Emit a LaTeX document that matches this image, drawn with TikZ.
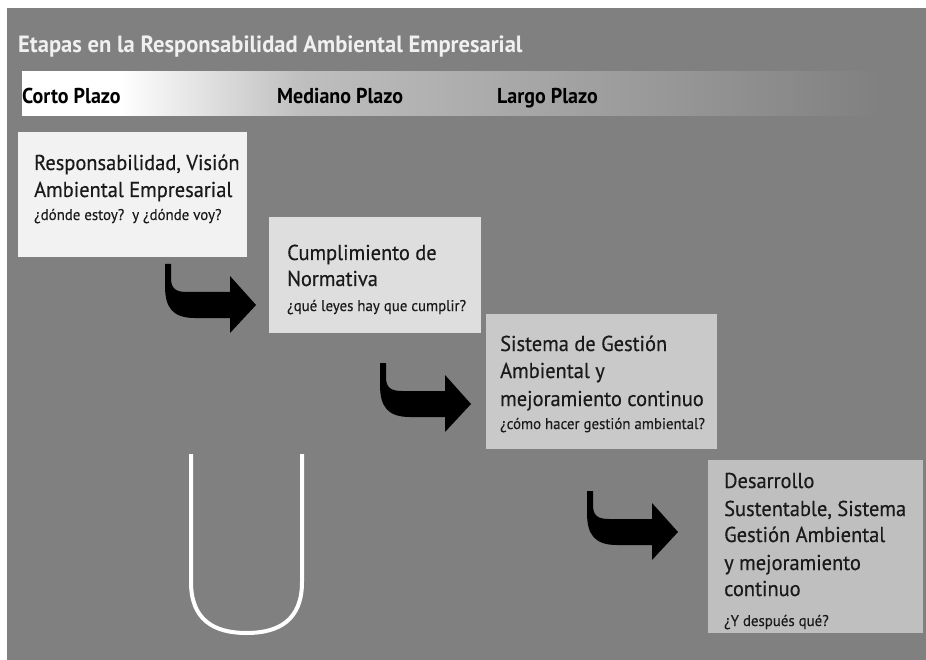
\documentclass[tikz,border=0pt]{standalone}
\usepackage{fontspec}
\setmainfont{PT Sans}
\newfontfamily\ttlfont{PT Sans Bold}[FakeStretch=0.96]
\newfontfamily\bandfont{PT Sans Bold}[FakeStretch=0.93]
\newfontfamily\bxfont{PT Sans}[FakeStretch=0.95, FakeBold=0.4]
\newfontfamily\smfont{PT Sans}[FakeStretch=0.96, FakeBold=0.2]
\definecolor{bg}{HTML}{808080}
\definecolor{bA}{HTML}{F2F2F2}
\definecolor{bB}{HTML}{DEDEDE}
\definecolor{bC}{HTML}{C9C9C9}
\definecolor{bD}{HTML}{BFBFBF}
\definecolor{gA}{HTML}{BFBFBF}
\definecolor{gB}{HTML}{A3A3A3}
\definecolor{txt}{HTML}{1A1A1A}
\definecolor{ttl}{HTML}{F0F0F0}
\pgfdeclarehorizontalshading{bandsh}{100bp}{color(0bp)=(white); color(30.7bp)=(white); color(41.2bp)=(gA); color(56.4bp)=(gB); color(75bp)=(bg); color(100bp)=(bg)}
\begin{document}
\begin{tikzpicture}[x=1pt,y=-1pt,
  box/.style={anchor=north west, inner sep=0pt, draw=none},
  big/.style={anchor=base west, inner sep=0pt, text=txt, font=\bxfont\fontsize{21.5}{26}\selectfont},
  sml/.style={anchor=base west, inner sep=0pt, text=txt, font=\smfont\fontsize{15.5}{19}\selectfont},
  band/.style={anchor=base west, inner sep=0pt, text=black, font=\bandfont\fontsize{21.5}{26}\selectfont},
  hook/.style={fill=black, draw=none}]
\useasboundingbox (0,0) rectangle (926,660);
\fill[white] (0,0) rectangle (926,660);
\fill[bg] (7,8) rectangle (926,660);
% title
\node[anchor=base west, inner sep=0pt, text=ttl, font=\ttlfont\fontsize{23.5}{28}\selectfont] (title) at (18,53) {Etapas en la Responsabilidad Ambiental Empresarial};
% band
\shade[shading=bandsh] (22,72) rectangle (880,116);
\node[band] (corto) at (22,104) {Corto Plazo};
\node[band] (mediano) at (277,104) {Mediano Plazo};
\node[band] (largo) at (497,104) {Largo Plazo};
% boxes
\node[box, fill=bA, minimum width=229pt, minimum height=125pt] (box1) at (18,132) {};
\node[box, fill=bB, minimum width=212pt, minimum height=116pt] (box2) at (269,217) {};
\node[box, fill=bC, minimum width=231pt, minimum height=135pt] (box3) at (486,314) {};
\node[box, fill=bD, minimum width=215pt, minimum height=173pt] (box4) at (708,460) {};
% box texts
\node[big] (t1a) at (34,170) {Responsabilidad, Visión};
\node[big] (t1b) at (34,197) {Ambiental Empresarial};
\node[sml] (t1c) at (34,220) {¿dónde estoy?\ \ y ¿dónde voy?};
\node[big] (t2a) at (287,260) {Cumplimiento de};
\node[big] (t2b) at (287,286) {Normativa};
\node[sml] (t2c) at (287,311) {¿qué leyes hay que cumplir?};
\node[big] (t3a) at (500,351) {Sistema de Gestión};
\node[big] (t3b) at (500,378) {Ambiental y};
\node[big] (t3c) at (500,406) {mejoramiento continuo};
\node[sml] (t3d) at (500,429) {¿cómo hacer gestión ambiental?};
\node[big] (t4a) at (724,488) {Desarrollo};
\node[big] (t4b) at (724,516) {Sustentable, Sistema};
\node[big] (t4c) at (724,542) {Gestión Ambiental};
\node[big] (t4d) at (724,570) {y mejoramiento};
\node[big] (t4e) at (724,596) {continuo};
\node[sml] (t4f) at (724,626) {¿Y después qué?};
% hooked arrows
\foreach \ox/\oy in {165/264, 380/363, 587/491}{
  \fill[hook, shift={(\ox,\oy)}] (0,0) -- (6,0) -- (6,14)
    .. controls (6,24) and (10,28) .. (22,28) -- (65,28) -- (65,12) -- (91,41)
    -- (65,69) -- (65,54) -- (30,54) .. controls (8,54) and (0,44) .. (0,22) -- cycle;
}
% U shape
\draw[white, line width=4pt] (191,454) -- (191,582)
  .. controls (191,620) and (214,633) .. (246.5,633)
  .. controls (279,633) and (302,620) .. (302,582) -- (302,454);
\end{tikzpicture}
\end{document}
